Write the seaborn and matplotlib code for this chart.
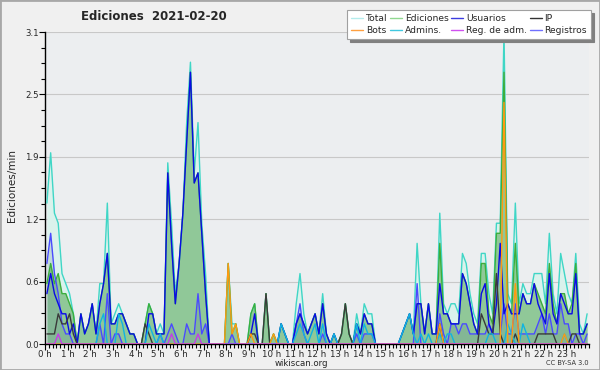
import numpy as np
import pandas as pd
import matplotlib
matplotlib.use("Agg")
import matplotlib.pyplot as plt
import seaborn as sns
from matplotlib.lines import Line2D
from matplotlib.patches import Rectangle

# ---- data: counts per 10-minute bin (one row = one hour) ----
total = [14,19,13,12,7,6, 5,3,0,3,1,2, 4,1,6,6,14,2, 3,4,3,2,1,1, 0,0,2,4,3,1,
         2,1,18,12,5,8, 13,22,28,17,22,12, 7,0,0,0,0,0, 8,2,2,0,0,0, 3,4,0,0,5,0,
         1,0,2,1,0,0, 4,7,3,1,2,3, 1,5,1,0,1,0, 1,4,1,0,3,1, 4,3,3,0,0,0,
         0,0,0,0,1,2, 3,1,10,4,1,4, 1,1,13,4,3,4, 4,3,9,8,5,3, 2,9,9,5,3,12,
         12,31,5,4,14,4, 6,5,5,7,7,7, 4,11,5,3,9,7, 5,4,9,2,1,3]
ediciones = [6,8,6,7,5,5, 4,3,0,3,1,2, 4,1,4,6,9,2, 2,3,3,2,1,1, 0,0,2,4,3,1,
             1,1,17,10,4,8, 13,20,27,16,17,11, 5,0,0,0,0,0, 8,1,2,0,0,0, 3,4,0,0,5,0,
             1,0,2,1,0,0, 2,3,2,1,2,3, 1,4,1,0,1,0, 1,4,1,0,2,1, 3,2,2,0,0,0,
             0,0,0,0,1,2, 3,1,4,4,1,4, 1,1,10,3,3,2, 2,2,7,6,4,2, 1,8,8,3,2,11,
             11,27,4,3,10,3, 5,4,4,6,5,4, 3,8,4,2,5,5, 3,4,8,1,1,2]
usuarios = [5,7,5,4,3,3, 1,2,0,3,1,2, 4,1,4,6,9,2, 2,3,3,2,1,1, 0,0,0,3,3,1,
            1,1,17,10,4,8, 13,20,27,16,17,11, 5,0,0,0,0,0, 0,0,0,0,0,0, 1,3,0,0,0,0,
            0,0,2,1,0,0, 2,3,2,1,2,3, 1,4,1,0,1,0, 0,0,0,0,2,1, 3,2,2,0,0,0,
            0,0,0,0,1,2, 3,1,4,4,1,4, 1,1,6,3,3,2, 2,2,7,6,4,2, 1,5,6,2,1,4,
            10,3,4,3,3,3, 5,4,4,6,4,3, 2,7,3,2,5,4, 3,3,7,1,1,2]
ip = [1,1,1,3,2,2, 3,1,0,0,0,0, 0,0,0,0,0,0, 0,0,0,0,0,0, 0,0,2,1,0,0,
      0,0,0,0,0,0, 0,0,0,0,0,0, 0,0,0,0,0,0, 0,0,0,0,0,0, 1,1,0,0,5,0,
      0,0,0,0,0,0, 0,0,0,0,0,0, 0,0,0,0,0,0, 1,4,1,0,0,0, 0,0,0,0,0,0,
      0,0,0,0,0,0, 0,0,0,0,0,0, 0,0,2,0,0,0, 0,0,0,0,0,0, 0,3,2,1,1,7,
      1,0,0,0,1,0, 0,0,0,0,1,1, 1,1,1,0,0,0, 0,1,1,0,0,0]
bots = [0,0,0,0,0,0, 0,0,0,0,0,0, 0,0,0,0,0,0, 0,0,0,0,0,0, 0,0,0,0,0,0,
        0,0,0,0,0,0, 0,0,0,0,0,0, 0,0,0,0,0,0, 8,1,2,0,0,0, 1,0,0,0,0,0,
        1,0,0,0,0,0, 0,0,0,0,0,0, 0,0,0,0,0,0, 0,0,0,0,0,0, 0,0,0,0,0,0,
        0,0,0,0,0,0, 0,0,0,0,0,0, 0,0,2,0,0,0, 0,0,0,0,0,0, 0,0,0,0,0,0,
        0,24,0,0,6,0, 0,0,0,0,0,0, 0,0,0,0,0,1, 0,0,0,0,0,0]
admins = [0,0,0,0,0,0, 0,0,0,0,0,0, 0,0,2,3,0,0, 0,3,2,0,0,0, 0,0,0,2,1,0,
          1,0,0,0,0,0, 0,0,0,0,0,0, 0,0,0,0,0,0, 0,0,0,0,0,0, 0,0,0,0,0,0,
          0,0,2,1,0,0, 1,2,1,0,1,2, 0,2,0,0,1,0, 0,0,0,0,2,0, 2,1,1,0,0,0,
          0,0,0,0,1,2, 3,1,0,1,0,1, 0,0,1,0,1,1, 0,0,0,0,0,0, 0,0,0,1,1,0,
          0,0,2,1,0,0, 2,1,0,0,0,0, 0,0,0,0,0,1, 0,0,0,0,0,0]
reg_adm = [0,0,0,1,0,0, 0,0,0,0,0,0, 0,0,0,0,0,0, 0,0,0,0,0,0, 0,0,0,0,0,0,
           0,0,0,1,0,0, 0,0,0,0,1,0, 0,0,0,0,0,0, 0,0,0,0,0,0, 0,0,0,0,0,0,
           0,0,0,0,0,0, 0,0,0,0,0,0, 0,0,0,0,0,0, 0,0,0,0,0,0, 0,0,0,0,0,0,
           0,0,0,0,0,0, 0,0,0,0,0,0, 0,0,0,0,0,0, 0,0,0,0,0,0, 0,0,0,0,0,0,
           0,0,0,0,0,0, 0,0,0,0,0,0, 0,0,0,0,0,0, 0,0,0,0,0,0]
registros = [8,11,7,5,2,1, 1,0,0,0,0,0, 0,0,2,0,5,0, 1,1,0,0,0,0, 0,0,0,0,0,0,
             1,0,1,2,1,0, 0,2,1,1,5,1, 2,0,0,0,0,0, 0,1,0,0,0,0, 0,0,0,0,0,0,
             0,0,0,0,0,0, 2,4,1,0,0,0, 0,1,0,0,0,0, 0,0,0,0,1,0, 1,1,1,0,0,0,
             0,0,0,0,0,0, 0,0,6,0,0,0, 0,0,3,1,0,2, 2,1,2,2,1,1, 1,1,1,2,1,1,
             1,4,1,1,4,1, 1,1,1,1,2,3, 1,3,1,1,4,2, 2,0,1,1,0,1]

series_names = ["Total", "Ediciones", "Usuarios", "IP", "Bots", "Admins.", "Reg. de adm.", "Registros"]
series_vals = [total, ediciones, usuarios, ip, bots, admins, reg_adm, registros]
hour_labels = [f"{h} h" for h in range(24)]

# ---- build long table (10-min bins plotted at their centre, in hours) ----
bin_hours = (np.arange(144) + 0.5) / 6.0
rows = []
for name, vals in zip(series_names, series_vals):
    for t, v in zip(bin_hours, vals):
        rows.append({"t": t, "v": v / 10.0, "serie": name})
df = pd.DataFrame(rows)

line_colors = {
    "Total": "#3fd6c6",
    "Ediciones": "#3cae3c",
    "Usuarios": "#0a0ae6",
    "IP": "#3a3a3a",
    "Bots": "#ff9a10",
    "Admins.": "#10b4e0",
    "Reg. de adm.": "#c53ee6",
    "Registros": "#4a4aff",
}
legend_colors = {
    "Total": "#b4ecec",
    "Ediciones": "#90d890",
    "Usuarios": "#3c3ce0",
    "IP": "#333333",
    "Bots": "#ffa040",
    "Admins.": "#40c8e0",
    "Reg. de adm.": "#d050f0",
    "Registros": "#7070ff",
}

sns.set_style("white")
plt.rcParams["font.family"] = ["DejaVu Sans"]

fig = plt.figure(figsize=(6.0, 3.7), dpi=100, facecolor="#f0f0f0")
ax = fig.add_axes([45 / 600, 26 / 370, 544 / 600, 312 / 370])
ax.set_facecolor("#eceef0")

tot = df[df.serie == "Total"]
edi = df[df.serie == "Ediciones"]
reg = df[df.serie == "Registros"]
ax.fill_between(tot.t, 0, tot.v, color="#daf2ec", lw=0, zorder=1)
ax.fill_between(edi.t, 0, edi.v, color="#90c898", lw=0, zorder=2)
ax.fill_between(reg.t, 0, reg.v, color="#4a6a8a", alpha=0.18, lw=0, zorder=2.5)

draw_order = ["Total", "Ediciones", "Registros", "Usuarios", "IP", "Admins.", "Bots", "Reg. de adm."]
sns.lineplot(data=df, x="t", y="v", hue="serie", hue_order=draw_order,
             palette=line_colors, linewidth=1.0, estimator=None, sort=False,
             legend=False, ax=ax, zorder=3)

ax.set_xlim(0, 24)
ax.set_ylim(0, 3.1)
ax.set_xlabel("")
ax.set_ylabel("")
ax.set_xticks(range(24))
ax.set_xticklabels(hour_labels)
ax.set_xticks(np.arange(0, 24.01, 1 / 6), minor=True)
yt = [0, 0.62, 1.24, 1.86, 2.48, 3.1]
ax.set_yticks(yt)
ax.set_yticklabels([f"{v:.1f}" for v in yt])
ax.set_yticks(np.arange(0, 3.1001, 0.155), minor=True)
ax.tick_params(axis="both", which="major", direction="out", length=4, width=0.8,
               labelsize=6.2, pad=0.5, color="black")
ax.tick_params(axis="both", which="minor", direction="out", length=3, width=0.8, color="black")
ax.tick_params(axis="x", which="both", bottom=True)
ax.tick_params(axis="y", which="both", left=True)
ax.yaxis.grid(True, color="#c8c8c8", lw=0.8)
ax.xaxis.grid(False)
ax.set_axisbelow(True)
for s in ["top", "right"]:
    ax.spines[s].set_visible(False)
for s in ["left", "bottom"]:
    ax.spines[s].set_color("black")
    ax.spines[s].set_linewidth(1.0)

fig.text(154 / 600, 1 - 17 / 370, "Ediciones  2021-02-20", ha="center", va="center",
         fontsize=8.5, fontweight="bold")
fig.text(12 / 600, 1 - 186 / 370, "Ediciones/min", rotation=90, ha="center", va="center",
         fontsize=7.5)
fig.text(301 / 600, 1 - 363 / 370, "wikiscan.org", ha="center", va="center", fontsize=6.2)
fig.text(589 / 600, 1 - 363 / 370, "CC BY-SA 3.0", ha="right", va="center", fontsize=4.8,
         color="#333333")

legend_order = ["Total", "Bots", "Ediciones", "Admins.", "Usuarios", "Reg. de adm.", "IP", "Registros"]
handles = [Line2D([0], [0], color=legend_colors[n], lw=1.0) for n in legend_order]
leg = fig.legend(handles, legend_order, ncol=4, loc="upper right",
                 bbox_to_anchor=(591 / 600, 1 - 10 / 370), frameon=True, fancybox=False,
                 shadow={"color": "#808080", "alpha": 1.0}, fontsize=6.6, handlelength=1.3,
                 handletextpad=0.3, columnspacing=0.3, labelspacing=0.35, borderpad=0.45,
                 borderaxespad=0)
leg.get_frame().set_edgecolor("#a0a0a0")
leg.get_frame().set_facecolor("white")
leg.get_frame().set_linewidth(0.8)

fig.patches.append(Rectangle((0, 0), 1, 1, transform=fig.transFigure, fill=False,
                             edgecolor="#a8a8a8", lw=2.0, zorder=10))

fig.savefig("out.png", dpi=100, facecolor=fig.get_facecolor())
